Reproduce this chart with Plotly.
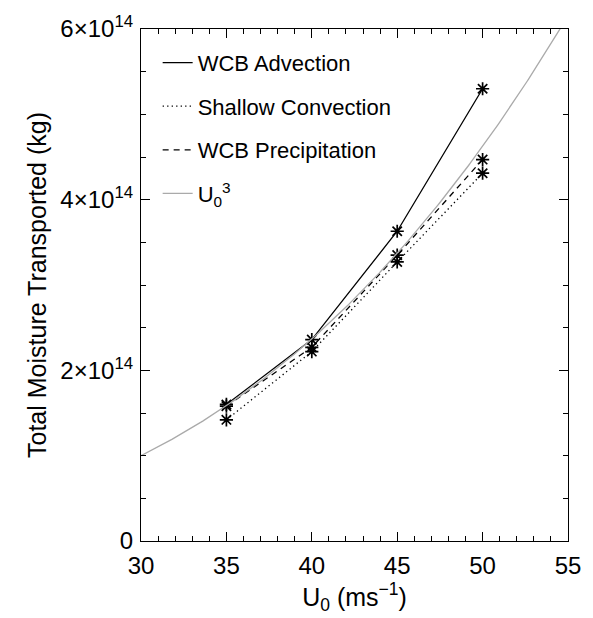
import numpy as np
import plotly.graph_objects as go

# Data (moisture in units of 1e14 kg)
u0 = [35, 40, 45, 50]
wcb_advection = [1.60, 2.36, 3.63, 5.30]
shallow_convection = [1.42, 2.22, 3.27, 4.31]
wcb_precipitation = [1.58, 2.27, 3.35, 4.47]

# U0^3 reference curve: k * U0^3 (in 1e14 kg)
cube_coeff = 3.7e-5
curve_u = np.linspace(30, 55, 250)
curve_y = cube_coeff * curve_u ** 3

x_ticks = [30, 35, 40, 45, 50, 55]
y_tickvals = [0, 2, 4, 6]
y_ticktext = ["0", "2×10<sup>14</sup>", "4×10<sup>14</sup>", "6×10<sup>14</sup>"]

FONT = "Liberation Sans, Arial, Helvetica, sans-serif"

fig = go.Figure()

series = [
    ("WCB Advection", wcb_advection, "solid"),
    ("Shallow Convection", shallow_convection, "1.3px,3.2px"),
    ("WCB Precipitation", wcb_precipitation, "6px,5px"),
]

for i, (name, vals, dash) in enumerate(series):
    fig.add_trace(go.Scatter(
        x=u0, y=vals, mode="lines", name=name,
        line=dict(color="black", width=1.3, dash=dash),
        legendgroup=f"g{i}",
    ))
    fig.add_trace(go.Scatter(
        x=u0, y=vals, mode="markers", showlegend=False,
        marker=dict(symbol="asterisk-open", size=11, color="black",
                    line=dict(color="black", width=1.7)),
        hoverinfo="skip",
    ))

fig.add_trace(go.Scatter(
    x=curve_u, y=curve_y, mode="lines", name="U<sub>0</sub><sup>3</sup>",
    line=dict(color="#aaaaaa", width=1.3),
    legendgroup="g3",
))

fig.update_layout(
    width=593, height=618,
    margin=dict(l=141, r=16, t=22, b=72),
    paper_bgcolor="white", plot_bgcolor="white",
    font=dict(family=FONT, color="black", size=22),
    showlegend=True,
    legend=dict(
        x=0.039, y=0.975, xanchor="left", yanchor="top",
        bgcolor="rgba(0,0,0,0)", borderwidth=0,
        font=dict(size=22, family=FONT),
        tracegroupgap=12,
        traceorder="grouped",
    ),
)

fig.update_xaxes(
    range=[30, 55], tickvals=x_ticks, ticktext=[str(t) for t in x_ticks],
    showgrid=False, zeroline=False,
    showline=True, linecolor="black", linewidth=1.3, mirror="ticks",
    ticks="inside", ticklen=9, tickwidth=1.2, tickcolor="black",
    tickfont=dict(size=24, family=FONT), ticklabelstandoff=3,
    minor=dict(ticks="inside", ticklen=5, tickwidth=1, tickcolor="black",
               tickmode="linear", tick0=30, dtick=1, showgrid=False),
    title=dict(text="U<sub>0</sub> (ms<sup>−1</sup>)", font=dict(size=25, family=FONT), standoff=10),
)
fig.update_yaxes(
    range=[0, 6], tickvals=y_tickvals, ticktext=y_ticktext,
    showgrid=False, zeroline=False,
    showline=True, linecolor="black", linewidth=1.3, mirror="ticks",
    ticks="inside", ticklen=9, tickwidth=1.2, tickcolor="black",
    tickfont=dict(size=24, family=FONT), ticklabelstandoff=2,
    minor=dict(ticks="inside", ticklen=5, tickwidth=1, tickcolor="black",
               tickmode="linear", tick0=0, dtick=0.5, showgrid=False),
    title=dict(text="Total Moisture Transported (kg)", font=dict(size=25, family=FONT), standoff=6),
)

fig.write_html("out.html")
